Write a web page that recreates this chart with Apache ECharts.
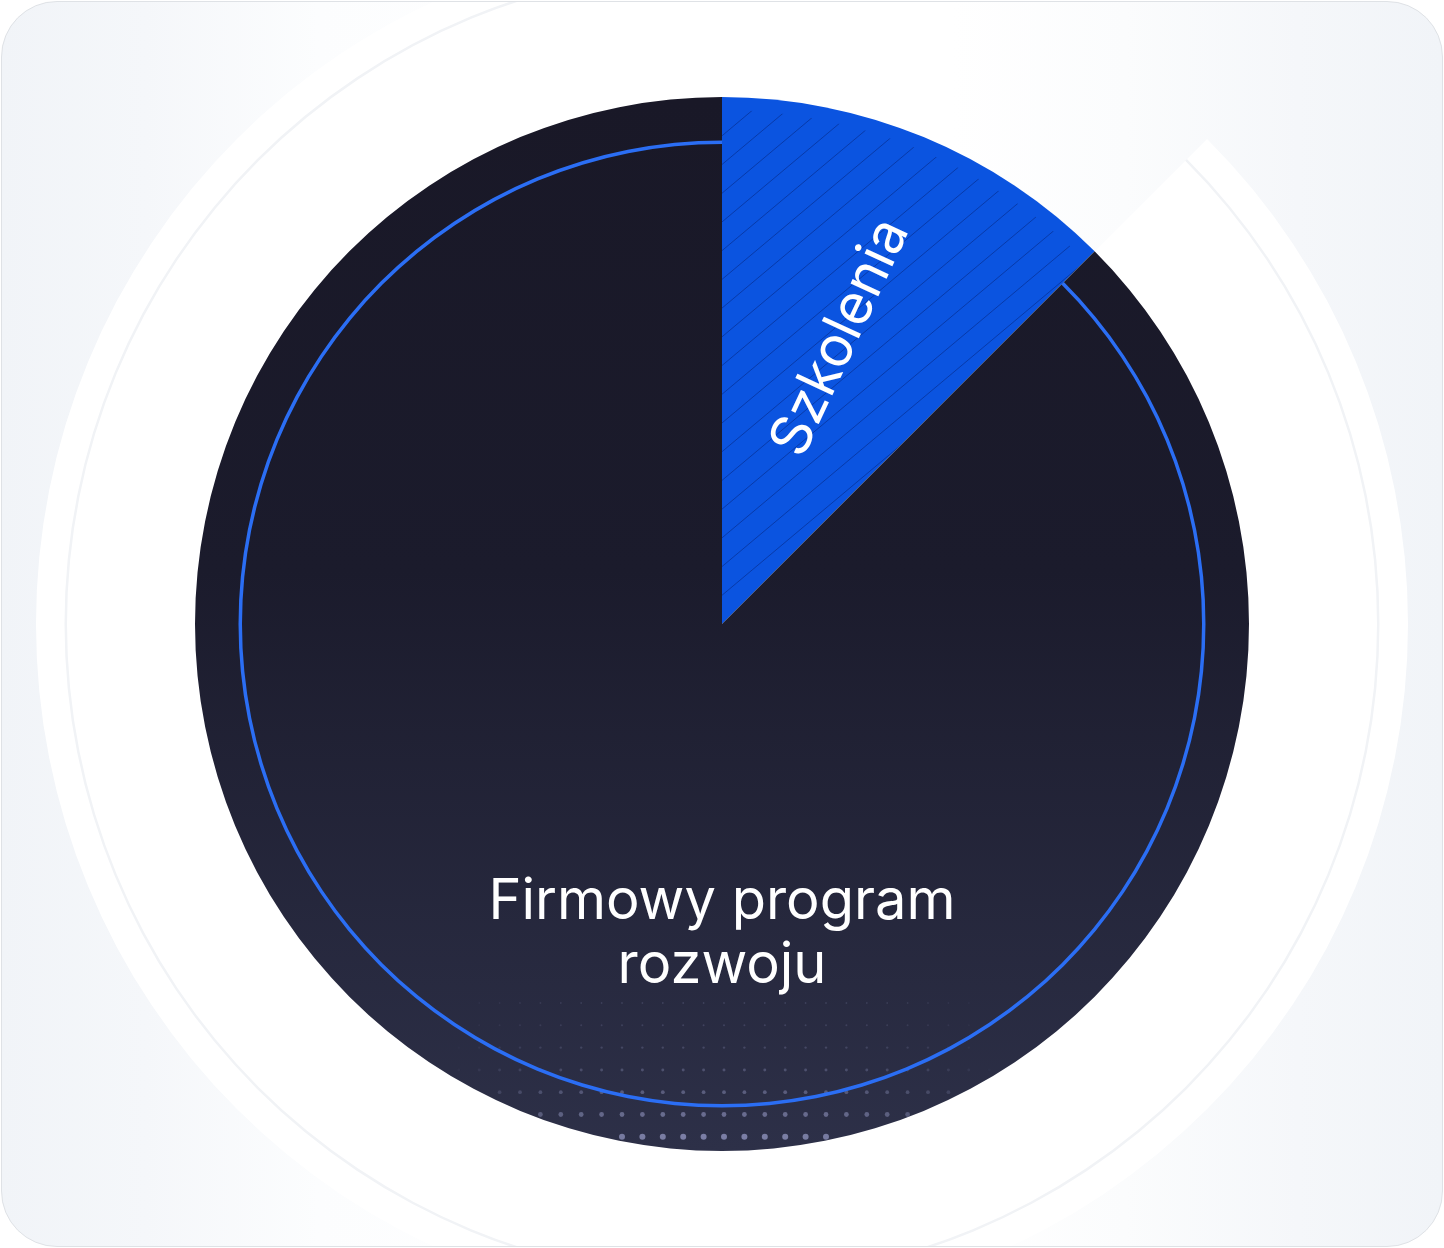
<!DOCTYPE html>
<html>
<head>
<meta charset="utf-8">
<script src="https://cdn.jsdelivr.net/npm/echarts@6/dist/echarts.min.js"></script>
<style>
html, body { margin: 0; padding: 0; background: #ffffff; width: 1444px; height: 1248px; overflow: hidden; }
#frame {
  position: absolute; left: 1px; top: 1px; width: 1442px; height: 1246px; box-sizing: border-box;
  border: 1.5px solid #dfe2e6; border-radius: 56px;
  background: linear-gradient(90deg, #f1f4f8 0%, #f5f7fa 10%, #fcfdfe 22%, #ffffff 40%, #ffffff 66%, #fbfcfd 78%, #f5f7fa 90%, #f1f4f8 100%);
}
#chart {
  position: absolute; left: 0; top: 0; width: 1444px; height: 1248px;
  clip-path: inset(2px 2px 2px 2px round 55px);
}
</style>
</head>
<body>
<div id="frame"></div>
<div id="chart"></div>
<script>
// ---- data ----
const categories = ['Szkolenia', 'Firmowy program rozwoju'];
const shares = [12.5, 87.5];
const labelTexts = ['Szkolenia', 'Firmowy program\nrozwoju'];
const labelPlacement = ['mid', 'bottom'];

// ---- layout / style constants ----
const W = 1444, H = 1248;
const CX = W / 2, CY = H / 2;
const R = 527;
const LABEL_R = 310;

function darkFill() {
  const c = document.createElement('canvas');
  c.width = W; c.height = H;
  const g = c.getContext('2d');
  const grad = g.createLinearGradient(0, CY - R, 0, CY + R);
  grad.addColorStop(0, '#191827');
  grad.addColorStop(0.45, '#1b1b2c');
  grad.addColorStop(1, '#2d3048');
  g.fillStyle = grad;
  g.fillRect(0, 0, W, H);
  // decorative dot grid near the bottom
  const stepX = 20.4, stepY = 22.3;
  for (let row = 0; row < 7; row++) {
    const y = CY + 379 + row * stepY;
    const t = row / 6;
    for (let k = -16; k <= 16; k++) {
      const x = CX + 2 + k * stepX;
      const dx = x - CX, dy = y - CY;
      const d = Math.sqrt(dx * dx + dy * dy);
      if (d > R - 2) continue;
      const h = Math.max(0, 1 - Math.pow(Math.abs(dx) / 275, 3));
      const a = (0.22 + 0.6 * t * t) * h;
      if (a < 0.03) continue;
      g.fillStyle = 'rgba(140,144,185,' + a.toFixed(3) + ')';
      g.beginPath();
      g.arc(x, y, 0.9 + 1.9 * t * t + 0.2 * t, 0, Math.PI * 2);
      g.fill();
    }
  }
  return c;
}

function blueFill() {
  const c = document.createElement('canvas');
  c.width = W; c.height = H;
  const g = c.getContext('2d');
  g.fillStyle = '#0b54e0';
  g.fillRect(0, 0, W, H);
  g.save();
  g.beginPath();
  g.arc(CX, CY, R - 13, 0, Math.PI * 2);
  g.clip();
  const ang = 40 * Math.PI / 180;
  const ux = Math.cos(ang), uy = -Math.sin(ang);   // line direction
  const nx = Math.sin(ang), ny = Math.cos(ang);    // normal
  const sp = 22;
  g.strokeStyle = 'rgba(5,25,95,0.42)';
  g.lineWidth = 1;
  for (let k = -70; k <= 70; k++) {
    const px = CX + nx * k * sp, py = CY + ny * k * sp;
    g.beginPath();
    g.moveTo(px - ux * 2000, py - uy * 2000);
    g.lineTo(px + ux * 2000, py + uy * 2000);
    g.stroke();
  }
  g.restore();
  return c;
}

const total = shares.reduce((a, b) => a + b, 0);
function midAngleFromTop(i) {
  let before = 0;
  for (let j = 0; j < i; j++) before += shares[j];
  return (before + shares[i] / 2) / total * 360;
}

const fills = [
  { image: blueFill(), repeat: 'no-repeat' },
  { image: darkFill(), repeat: 'no-repeat' }
];

function ringData(colorsByIndex) {
  return categories.map((name, i) => ({
    name: name, value: shares[i],
    itemStyle: { color: colorsByIndex[i], borderWidth: 0 }
  }));
}

const chart = echarts.init(document.getElementById('chart'), null, { renderer: 'canvas' });

const decorBase = {
  type: 'pie', center: ['50%', '50%'], startAngle: 90, clockwise: true,
  silent: true, animation: false, label: { show: false }, labelLine: { show: false },
  emphasis: { disabled: true }, avoidLabelOverlap: false
};

chart.setOption({
  backgroundColor: 'transparent',
  animation: false,
  tooltip: { show: false },
  series: [
    Object.assign({}, decorBase, {
      name: 'backdrop', z: 1, radius: [0, 686],
      data: ringData(['rgba(0,0,0,0)', '#ffffff'])
    }),
    Object.assign({}, decorBase, {
      name: 'backdrop-line', z: 2, radius: [655, 657.5],
      data: ringData(['rgba(0,0,0,0)', '#f1f3f6'])
    }),
    {
      type: 'pie', name: 'share', z: 3,
      center: ['50%', '50%'], radius: [0, R],
      startAngle: 90, clockwise: true, animation: false,
      avoidLabelOverlap: false,
      emphasis: { disabled: true },
      data: categories.map((name, i) => ({
        name: name, value: shares[i],
        itemStyle: { color: fills[i], borderWidth: 0 }
      })),
      label: {
        show: true, position: 'inside',
        color: '#ffffff', fontFamily: 'Inter', fontWeight: 400,
        fontSize: 56, lineHeight: 64,
        formatter: p => labelTexts[p.dataIndex]
      },
      labelLine: { show: false },
      labelLayout: function (p) {
        const i = p.dataIndex;
        const a = labelPlacement[i] === 'mid' ? midAngleFromTop(i) : 180;
        const rad = a * Math.PI / 180;
        const x = CX + LABEL_R * Math.sin(rad);
        const y = CY - LABEL_R * Math.cos(rad);
        const rot = labelPlacement[i] === 'mid' ? 90 - a - 2.5 : 0;
        return { x: x, y: y, align: 'center', verticalAlign: 'middle', rotate: rot };
      }
    },
    Object.assign({}, decorBase, {
      name: 'inner-line', z: 4, radius: [480, 483.5],
      data: ringData(['rgba(0,0,0,0)', '#2b6ef4'])
    })
  ]
});
</script>
</body>
</html>
